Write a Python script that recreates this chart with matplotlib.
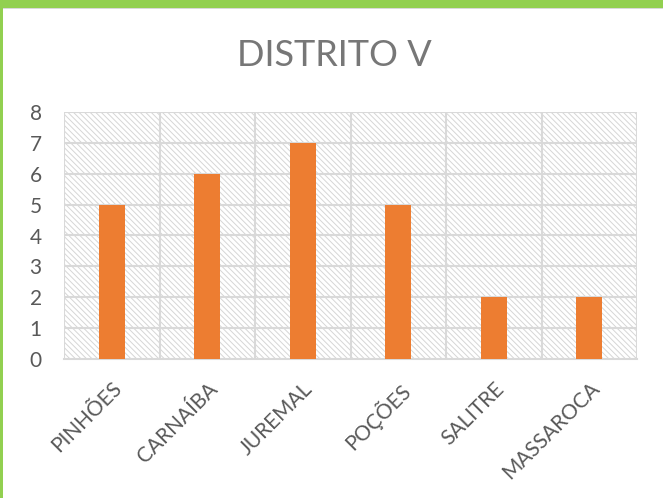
import matplotlib
matplotlib.use("Agg")
import matplotlib.pyplot as plt
from matplotlib.patches import Rectangle

# data
categories = ["PINHÕES", "CARNAÍBA", "JUREMAL", "POÇÕES", "SALITRE", "MASSAROCA"]
values = [5, 6, 7, 5, 2, 2]
title = "DISTRITO V"

plt.rcParams['font.family'] = ['Lato', 'DejaVu Sans']
plt.rcParams['hatch.linewidth'] = 0.7
plt.rcParams['hatch.color'] = '#d6d6d6'

W, H = 663, 498
fig = plt.figure(figsize=(W / 100, H / 100), dpi=100)

# green frame at top and left edge
fig.patches.append(Rectangle((0, 1 - 8 / H), 1, 8 / H, transform=fig.transFigure,
                             facecolor='#92d050', edgecolor='none'))
fig.patches.append(Rectangle((0, 0), 2.5 / W, 1, transform=fig.transFigure,
                             facecolor='#92d050', edgecolor='none'))
fig.patches.append(Rectangle((2.5 / W, 1 - 9.5 / H), 1, 1.5 / H, transform=fig.transFigure,
                             facecolor='#d9d9d9', edgecolor='none'))

ax = fig.add_axes([64 / W, 1 - 359 / H, (637 - 64) / W, (359 - 112) / H])

# hatched plot area background
ax.add_patch(Rectangle((0, 0), 1, 1, transform=ax.transAxes, facecolor='white',
                       edgecolor='#d6d6d6', hatch='\\\\\\\\\\\\', lw=0, zorder=0))

x = range(len(categories))
ax.bar(x, values, width=0.27, color='#ed7d31', zorder=3)

ax.set_xlim(-0.5, len(categories) - 0.5)
ax.set_ylim(0, 8)
ax.set_yticks(range(0, 9))
ax.set_xticks(x)
ax.set_xticklabels(categories, rotation=45, ha='right', rotation_mode='anchor',
                   fontsize=15, color='#595959')
ax.tick_params(axis='y', labelsize=15, labelcolor='#595959', length=0, pad=16)
ax.tick_params(axis='x', length=0, pad=14)

# gridlines: horizontal at ticks, vertical at category boundaries
for yv in range(1, 9):
    ax.axhline(yv, color='#d9d9d9', lw=1.5, zorder=1)
for xv in [i - 0.5 for i in range(len(categories) + 1)]:
    ax.axvline(xv, color='#d9d9d9', lw=1.5, zorder=1)

for side in ['top', 'right', 'left']:
    ax.spines[side].set_visible(False)
ax.spines['bottom'].set_color('#d9d9d9')
ax.spines['bottom'].set_linewidth(1.5)

fig.text(0.505, 1 - 56 / H, title, ha='center', va='center', fontsize=26, color='#777777')

fig.savefig('out.png', dpi=100)
